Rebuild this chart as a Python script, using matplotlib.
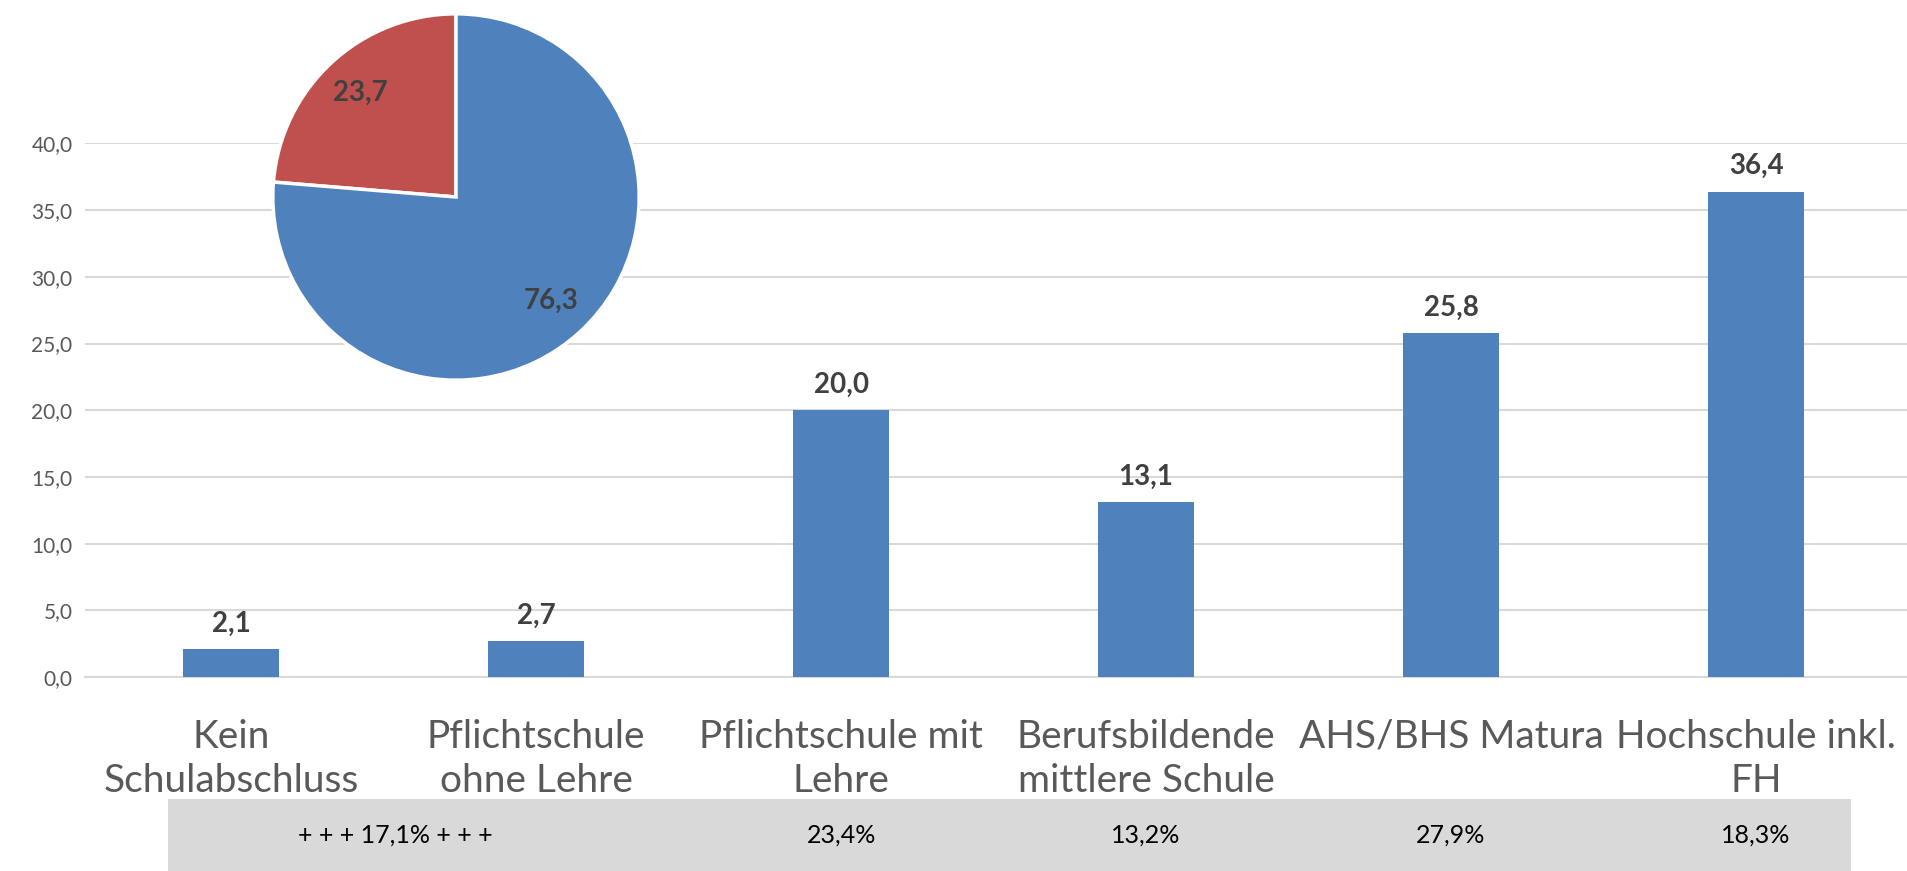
import matplotlib.pyplot as plt
from matplotlib.patches import Rectangle

# =========================
# DATA
# =========================
categories = [
    "Kein\nSchulabschluss",
    "Pflichtschule\nohne Lehre",
    "Pflichtschule mit\nLehre",
    "Berufsbildende\nmittlere Schule",
    "AHS/BHS Matura",
    "Hochschule inkl.\nFH",
]
values = [2.1, 2.7, 20.0, 13.1, 25.8, 36.4]

pie_values = [23.7, 76.3]

band_labels = ["+ + + 17,1% + + +", "23,4%", "13,2%", "27,9%", "18,3%"]

yticks = [0, 5, 10, 15, 20, 25, 30, 35, 40]

# =========================
# STYLE
# =========================
BLUE = "#4F81BD"
RED = "#C0504D"
GRID = "#D9D9D9"
TXT = "#595959"
LBL = "#404040"

plt.rcParams["font.family"] = ["Lato", "DejaVu Sans"]

W, H = 1907, 871
fig = plt.figure(figsize=(W / 100, H / 100), dpi=100)

def box(x0, y0, x1, y1):
    # pixel box (top-left origin) -> figure fraction
    return [x0 / W, 1 - y1 / H, (x1 - x0) / W, (y1 - y0) / H]

# =========================
# BAR CHART
# =========================
ax = fig.add_axes(box(85, 143.5, 1907, 677))
x = list(range(len(values)))
ax.bar(x, values, width=0.315, color=BLUE, zorder=3)
ax.set_xlim(-0.479, 5.495)
ax.set_ylim(0, 40)
ax.set_yticks(yticks)
ax.set_yticklabels([f"{v:.1f}".replace(".", ",") for v in yticks])
ax.yaxis.grid(True, color=GRID, linewidth=1.5, zorder=0)
ax.tick_params(axis="y", length=0, pad=9, labelsize=15, labelcolor=TXT)
ax.set_xticks(x)
ax.set_xticklabels(categories, fontsize=28, color=TXT, linespacing=1.3)
ax.tick_params(axis="x", length=0, pad=30)
for s in ["top", "right", "left"]:
    ax.spines[s].set_visible(False)
ax.spines["bottom"].set_color(GRID)
ax.spines["bottom"].set_linewidth(1.5)

for xi, v in zip(x, values):
    ax.annotate(f"{v:.1f}".replace(".", ","), (xi, v), xytext=(0, 9),
                textcoords="offset points", ha="center", va="bottom",
                fontsize=20, fontweight="bold", color=LBL)

# =========================
# BAND WITH PERCENTAGES
# =========================
bx = fig.add_axes(box(85, 799, 1907, 871))
bx.set_xlim(ax.get_xlim())
bx.set_ylim(0, 1)
bx.axis("off")
bx.add_patch(Rectangle((-0.207, 0), 5.52, 1, color=GRID, lw=0))
# first value covers the two lowest groups, the rest sit under their bar
band_x = [0.54, 2, 3, 4, 5]
for bxpos, t in zip(band_x, band_labels):
    bx.text(bxpos, 0.5, t, ha="center", va="center", fontsize=18, color="black")

# =========================
# PIE INSET
# =========================
px = fig.add_axes(box(271, 12, 641, 382))
px.pie(pie_values, colors=[RED, BLUE], startangle=90, counterclock=True,
       wedgeprops=dict(edgecolor="white", linewidth=2.5),
       autopct=lambda p: f"{p:.1f}".replace(".", ","), pctdistance=0.77,
       textprops=dict(fontsize=20, fontweight="bold", color=LBL))
px.set_xlim(-1.01, 1.01)
px.set_ylim(-1.01, 1.01)
px.set_aspect("equal")

fig.savefig("out.png", dpi=100)
